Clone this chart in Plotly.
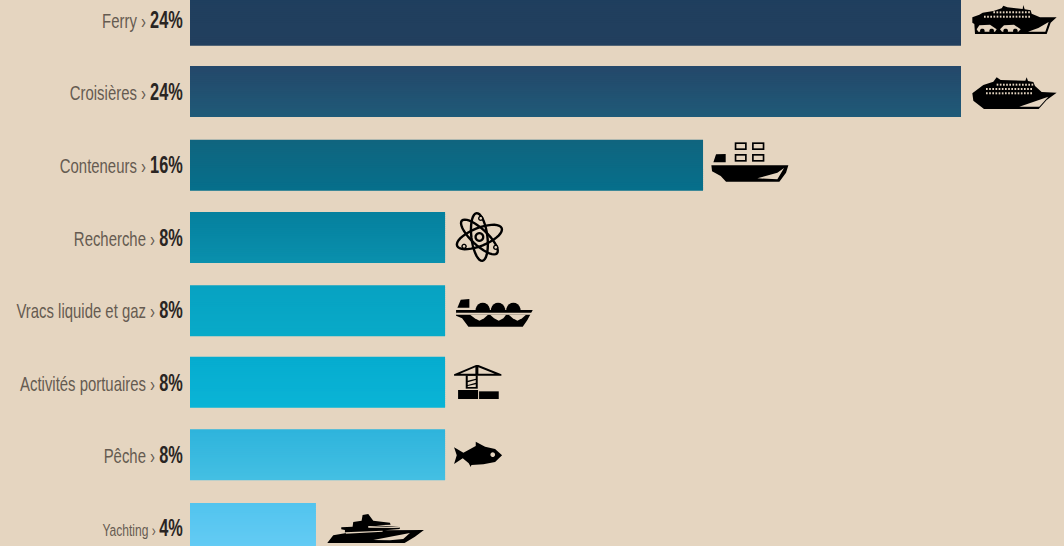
import math
import plotly.graph_objects as go

categories = ["Ferry", "Croisières", "Conteneurs", "Recherche", "Vracs liquide et gaz",
              "Activités portuaires", "Pêche", "Yachting"]
percent_labels = ["24%", "24%", "16%", "8%", "8%", "8%", "8%", "4%"]
values = [24.0, 24.0, 15.97, 7.94, 7.94, 7.94, 7.94, 3.92]
top_colors = ["#1f3f5e", "#24486a", "#10657f", "#05809e", "#07a2c2", "#06accf", "#2eb4dc", "#52c4ee"]
bottom_colors = ["#223f5e", "#1f5a78", "#066f8b", "#0a90ad", "#08aac8", "#0ab4d6", "#44bfe3", "#66ccf5"]

BG = "#e5d5c0"
SLICES = 26
BAR_W = 0.7025
Y_RANGE = (7.238, -0.282)
PX_PER_UNIT = 546 / (Y_RANGE[0] - Y_RANGE[1])
# vertical nudges (px) for the slightly uneven spacing of the original artwork
bar_centre_px = [20.2, 91.5, 165.2, 237.6, 310.7, 382.3, 454.7, 528.5]


def axis_px(i):
    return (i - Y_RANGE[1]) * PX_PER_UNIT


def rgb(h):
    return [int(h[i:i + 2], 16) for i in (1, 3, 5)]


def mix(a, b, t):
    ca, cb = rgb(a), rgb(b)
    return "rgb(%d,%d,%d)" % tuple(round(x + (y - x) * t) for x, y in zip(ca, cb))


fig = go.Figure()
# Each bar is built from thin horizontal slices to give its vertical gradient
for i, v in enumerate(values):
    slice_h = BAR_W / SLICES
    nudge = (bar_centre_px[i] - axis_px(i)) / PX_PER_UNIT
    ys, xs, offs, wids, cols = [], [], [], [], []
    for s in range(SLICES):
        ys.append(i)
        xs.append(v)
        offs.append(nudge - BAR_W / 2 + s * slice_h)
        wids.append(slice_h * (1.6 if s < SLICES - 1 else 1.0))
        cols.append(mix(top_colors[i], bottom_colors[i], s / (SLICES - 1)))
    fig.add_trace(go.Bar(y=ys, x=xs, orientation="h", offset=offs, width=wids,
                         marker=dict(color=cols, line=dict(width=0)),
                         showlegend=False, hoverinfo="skip"))

ticktext = []
for i, (c, p) in enumerate(zip(categories, percent_labels)):
    sz = 17 if c == "Yachting" else 21
    ticktext.append(f"<span style='font-size:{sz}px;color:#655b51'>{c} › </span>"
                    f"<b style='color:#2a2523;font-size:23px'>{p}</b>")


# Icons: polygons traced in 3x-zoom coordinates
def poly(pts):
    return "M" + " L".join(f"{x:.2f},{y:.2f}" for x, y in pts) + " Z"


def dots(x0, x1, y, step, w=5, h=6):
    out = []
    x = x0
    while x <= x1:
        out.append([(x, y), (x + w, y), (x + w, y + h), (x, y + h)])
        x += step
    return out


def circle(cx, cy, rx, ry=None, n=20):
    ry = rx if ry is None else ry
    return [(cx + rx * math.cos(2 * math.pi * k / n), cy + ry * math.sin(2 * math.pi * k / n)) for k in range(n)]


def ell(cx, cy, rx, ry, rot, n=36):
    c, s = math.cos(rot), math.sin(rot)
    o = []
    for k in range(n):
        a = 2 * math.pi * k / n
        x, y = rx * math.cos(a), ry * math.sin(a)
        o.append((cx + x * c - y * s, cy + x * s + y * c))
    return o


icons = {}
icons[0] = dict(origin=(940, 0), black=[
    [(97, 52), (118, 44), (128, 38), (160, 33), (185, 25), (190, 17), (202, 22), (248, 27), (250, 15), (254, 28),
     (272, 31), (275, 41), (300, 52), (350, 52), (332, 68), (320, 102), (105, 102), (103, 72), (97, 68)]],
    cream=[[(110, 88), (118, 76), (150, 74), (170, 88), (165, 95), (115, 95)],
           [(180, 88), (192, 76), (222, 74), (242, 88), (235, 95), (186, 95)],
           [(264, 95), (295, 84), (326, 66), (316, 95)]]
    + dots(160, 268, 34, 9.5) + dots(132, 272, 47, 9.5),
    top=[circle(127, 93, 7), circle(155, 93, 7), circle(197, 93, 7), circle(226, 93, 7)])
icons[1] = dict(origin=(940, 0), black=[
    [(97, 280), (130, 255), (160, 245), (170, 232), (182, 240), (256, 242), (260, 232), (264, 243), (280, 246),
     (285, 258), (305, 276), (350, 278), (320, 300), (296, 327), (132, 327), (100, 302)]],
    cream=[[(238, 320), (325, 290), (298, 320)]]
    + dots(170, 275, 251, 9.5) + dots(138, 275, 264, 9.5) + dots(138, 275, 277, 9.5))
icons[2] = dict(origin=(690, 130), black=[
    [(64, 106), (295, 106), (288, 128), (268, 155), (108, 155), (92, 138), (66, 124)],
    [(78, 73), (107, 72), (107, 97), (70, 97)],
    [(134, 37), (170, 37), (170, 60), (134, 60)], [(186, 37), (223, 37), (223, 60), (186, 60)],
    [(134, 72), (170, 72), (170, 95), (134, 95)], [(186, 72), (223, 72), (223, 95), (186, 95)]],
    cream=[[(202, 145), (262, 128), (282, 114), (262, 148)],
           [(139, 42), (165, 42), (165, 55), (139, 55)], [(191, 42), (218, 42), (218, 55), (191, 55)],
           [(139, 77), (165, 77), (165, 90), (139, 90)], [(191, 77), (218, 77), (218, 90), (191, 90)]])
c = (118, 96)
icons[3] = dict(origin=(440, 205), rings=[
    ell(c[0], c[1], 72, 27, -0.38), ell(c[0], c[1], 72, 24, 0.75), ell(c[0], c[1], 72, 24, 1.45)],
    black=[circle(c[0], c[1], 15), circle(122, 40, 8), circle(72, 124, 8), circle(167, 127, 8)],
    cream=[circle(c[0], c[1], 8), circle(122, 40, 4), circle(72, 124, 4), circle(167, 127, 4)])
icons[4] = dict(origin=(440, 205), black=[
    [(48, 315), (278, 315), (262, 345), (248, 365), (85, 365), (66, 340), (48, 332)],
    [(62, 284), (88, 282), (88, 308), (52, 308)],
    circle(128, 318, 22, 25), circle(174, 318, 22, 25), circle(220, 318, 22, 25)],
    cream=[[(48, 323), (278, 323), (276, 329), (48, 329)],
           [(90, 329), (104, 340), (118, 347), (132, 340), (144, 329)],
           [(150, 329), (162, 340), (176, 347), (190, 340), (198, 329)],
           [(206, 329), (218, 340), (232, 347), (246, 340), (258, 329)]])
icons[5] = dict(origin=(310, 350), black=[
    [(444, 120), (504, 120), (504, 147), (444, 147)],
    [(507, 124), (566, 124), (566, 147), (507, 147)],
    [(432, 73), (498, 45), (505, 45), (574, 73), (574, 77), (432, 77)],
    [(467, 76), (503, 76), (503, 116), (467, 116)]],
    cream=[[(450, 71), (496, 52), (496, 71)], [(505, 52), (554, 71), (505, 71)],
           [(473, 78), (497, 78), (497, 86), (473, 92)],
           [(473, 97), (497, 90), (497, 98), (473, 105)],
           [(473, 108), (497, 103), (497, 111), (473, 111)]])
icons[6] = dict(origin=(310, 350), black=[
    [(432, 292), (460, 308), (497, 288), (497, 275), (525, 290), (555, 297), (576, 316), (555, 336), (520, 343),
     (484, 345), (482, 351), (476, 340), (458, 325), (432, 342), (440, 316)]],
    cream=[circle(548, 314, 7)])
icons[7] = dict(origin=(310, 350), black=[
    [(52, 579), (70, 556), (105, 550), (105, 540), (94, 538), (94, 532), (128, 530), (130, 516), (155, 512),
     (158, 495), (175, 492), (190, 512), (240, 518), (242, 524), (198, 526), (268, 531), (270, 537), (225, 541),
     (342, 540), (315, 560), (284, 579)]],
    cream=[[(105, 547), (218, 542), (218, 545), (108, 551)],
           [(175, 528), (268, 532), (268, 534), (175, 533)],
           [(190, 570), (300, 549), (280, 567), (240, 571)]])

bar_end_px = [961, 961, 703, 445, 445, 445, 445, 316]


def add_poly(i, pts, fill, line=None, lw=0):
    ox, oy = icons[i]["origin"]
    rel = [((ox + x / 3) - bar_end_px[i], axis_px(i) - (oy + y / 3)) for x, y in pts]
    fig.add_shape(type="path", xref="x", yref="y", xsizemode="pixel", ysizemode="pixel",
                  xanchor=values[i], yanchor=i, path=poly(rel), fillcolor=fill,
                  line=dict(color=line or "rgba(0,0,0,0)", width=lw), layer="above")


for i, ic in icons.items():
    for r in ic.get("rings", []):
        add_poly(i, r, "rgba(0,0,0,0)", "#000", 2.4)
    for p in ic["black"]:
        add_poly(i, p, "#000")
    for p in ic["cream"]:
        add_poly(i, p, BG)
    for p in ic.get("top", []):
        add_poly(i, p, "#000")

fig.update_layout(
    width=1064, height=546, autosize=False,
    margin=dict(l=190, r=0, t=0, b=0, pad=0),
    paper_bgcolor=BG, plot_bgcolor=BG,
    barmode="overlay", showlegend=False,
    font=dict(family="'Liberation Sans', sans-serif", size=21),
    xaxis=dict(range=[0, 874 / 32.125], visible=False, fixedrange=True),
    yaxis=dict(range=list(Y_RANGE), tickmode="array", tickvals=list(range(len(categories))),
               ticktext=ticktext, automargin=False, ticks="outside", ticklen=2, tickcolor="rgba(0,0,0,0)",
               showline=False, showgrid=False, zeroline=False, fixedrange=True),
)

# The reference type is a condensed DIN; no such font is installed, so the label text is
# narrowed horizontally about its right edge. The page margin is removed as well.
POST = """
document.documentElement.style.background = '%s';
document.body.style.margin = '0';
document.body.style.overflow = 'hidden';
document.querySelectorAll('.ytick text').forEach(function (t) {
  var x = parseFloat(t.getAttribute('x')) || 0;
  var prior = t.getAttribute('transform') || '';
  t.setAttribute('transform', prior + ' translate(' + x + ',0) scale(0.71,1) translate(' + (-x) + ',0)');
});
""" % BG
fig.write_html("out.html", config=dict(displayModeBar=False), post_script=POST)
